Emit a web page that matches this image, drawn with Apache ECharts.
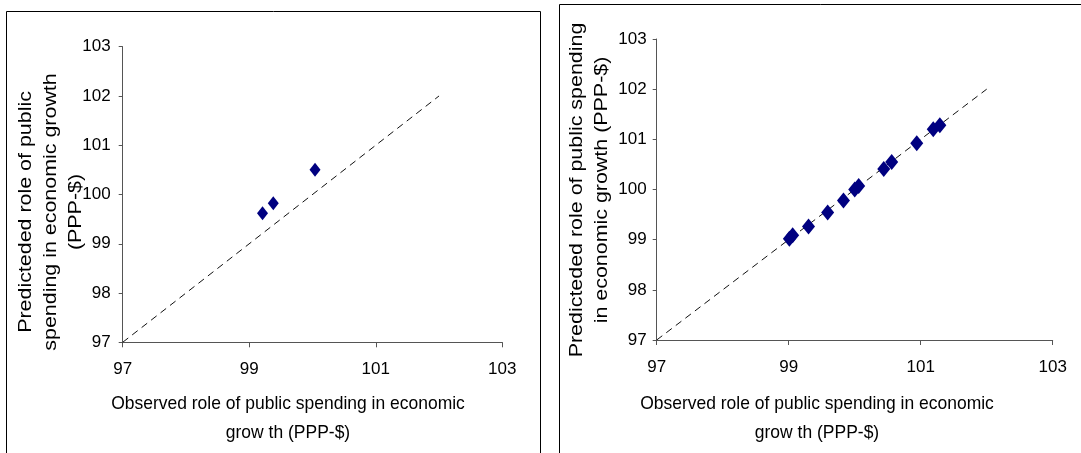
<!DOCTYPE html>
<html>
<head>
<meta charset="utf-8">
<script src="https://cdn.jsdelivr.net/npm/echarts@6/dist/echarts.min.js"></script>
<style>html,body{margin:0;padding:0;background:#fff}#c{width:1081px;height:453px}</style>
</head>
<body>
<div id="c"></div>
<script>
// ---- data ----
const xTicks = [97, 99, 101, 103];
const yTicks = [97, 98, 99, 100, 101, 102, 103];
const leftObserved = [99.21, 99.38, 100.04];
const leftPredicted = [99.62, 99.82, 100.50];
const rightObserved = [99.01, 99.06, 99.30, 99.59, 99.83, 100.00, 100.06, 100.44, 100.56, 100.94, 101.19, 101.29];
const rightPredicted = [99.02, 99.09, 99.26, 99.54, 99.78, 100.00, 100.07, 100.41, 100.55, 100.92, 101.20, 101.28];
const refLine = [97, 102];
const xTitle = ['Observed role of public spending in economic', 'grow th (PPP-$)'];
const yTitleLeft = ['Predicteded role of public', 'spending in economic growth', '(PPP-$)'];
const yTitleRight = ['Predicteded role of public spending', 'in economic growth (PPP-$)'];

const pairs = (a, b) => a.map((v, i) => [v, b[i]]);
const FONT = '"Liberation Sans", Arial, sans-serif';

function xAxis(idx) {
  return {
    type: 'value', gridIndex: idx, min: xTicks[0], max: xTicks[xTicks.length - 1], interval: 2,
    axisLine: {show: true, onZero: false, lineStyle: {color: '#555', width: 1}},
    axisTick: {show: true, inside: false, length: 5, lineStyle: {color: '#555'}},
    splitLine: {show: false},
    axisLabel: {fontFamily: FONT, fontSize: 17, color: '#000', margin: 19}
  };
}
function yAxis(idx, margin) {
  return {
    type: 'value', gridIndex: idx, min: yTicks[0], max: yTicks[yTicks.length - 1], interval: 1,
    axisLine: {show: true, onZero: false, lineStyle: {color: '#555', width: 1}},
    axisTick: {show: true, inside: false, length: 4, lineStyle: {color: '#555'}},
    splitLine: {show: false},
    axisLabel: {fontFamily: FONT, fontSize: 17, color: '#000', margin: margin}
  };
}
function refSeries(idx) {
  return {
    type: 'line', xAxisIndex: idx, yAxisIndex: idx, data: pairs(refLine, refLine),
    symbol: 'none', silent: true,
    lineStyle: {color: '#111', width: 1, type: [7, 5]}, z: 1
  };
}
function pts(idx, xs, ys, size) {
  return {
    type: 'scatter', xAxisIndex: idx, yAxisIndex: idx, data: pairs(xs, ys),
    symbol: 'diamond', symbolSize: size,
    itemStyle: {color: '#000080', opacity: 1}, z: 3
  };
}
function textEl(x, y, lines, opts) {
  return Object.assign({
    type: 'text', x: x, y: y, silent: true,
    style: {text: lines.join('\n'), font: opts.font, fill: '#000', align: 'center', verticalAlign: 'middle', lineHeight: opts.lh}
  }, opts.t);
}

const chart = echarts.init(document.getElementById('c'), null, {renderer: 'canvas'});
chart.setOption({
  animation: false,
  backgroundColor: '#fff',
  grid: [
    {left: 122.7, top: 46.7, width: 379.6, height: 295.6},
    {left: 656.7, top: 39, width: 396, height: 301}
  ],
  xAxis: [xAxis(0), xAxis(1)],
  yAxis: [yAxis(0, 12), yAxis(1, 10)],
  series: [refSeries(0), pts(0, leftObserved, leftPredicted, [11, 14]), refSeries(1), pts(1, rightObserved, rightPredicted, [13, 16])],
  graphic: [
    {type: 'rect', shape: {x: 6.5, y: 11.5, width: 534, height: 460}, style: {fill: 'none', stroke: '#000', lineWidth: 1}, silent: true},
    {type: 'rect', shape: {x: 559.5, y: 4.5, width: 600, height: 470}, style: {fill: 'none', stroke: '#000', lineWidth: 1}, silent: true},
    textEl(288, 418, xTitle, {font: '19px ' + FONT, lh: 29, t: {scaleX: 0.92}}),
    textEl(817, 418, xTitle, {font: '19px ' + FONT, lh: 29, t: {scaleX: 0.92}}),
    textEl(51, 212, yTitleLeft, {font: '18px ' + FONT, lh: 25, t: {rotation: Math.PI / 2, scaleX: 1.19}}),
    textEl(589.5, 190, yTitleRight, {font: '18px ' + FONT, lh: 25, t: {rotation: Math.PI / 2, scaleX: 1.19}})
  ]
});
</script>
</body>
</html>
